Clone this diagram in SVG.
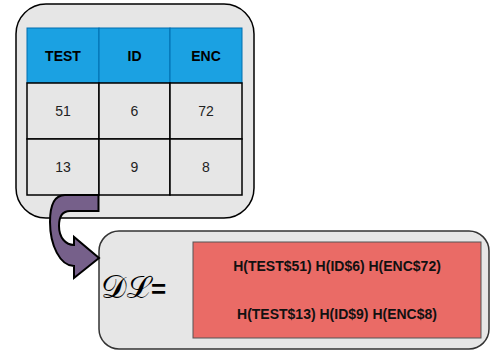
<svg xmlns="http://www.w3.org/2000/svg" width="490" height="351" viewBox="0 0 490 351">
<style>
.box{fill:#e6e6e6;stroke:#000;stroke-width:1.5}
.hdr{fill:#1ba1e2;stroke:#006eaf;stroke-width:1}
.cell{fill:#e6e6e6;stroke:#000;stroke-width:1.5}
.ht{font-family:"Liberation Sans",Arial,sans-serif;font-size:14px;font-weight:bold;fill:#000;text-anchor:middle}
.ct{font-family:"Liberation Sans",Arial,sans-serif;font-size:14px;fill:#222;text-anchor:middle}
.rt{font-family:"Liberation Sans",Arial,sans-serif;font-size:14px;font-weight:bold;fill:#111;text-anchor:middle}
</style>
<rect width="490" height="351" fill="#fff"/>
<g id="table-node">
<rect class="box" x="16" y="4" width="238" height="214" rx="30" ry="30"/>
<rect class="hdr" x="27" y="28" width="72" height="55"/>
<rect class="hdr" x="99" y="28" width="71" height="55"/>
<rect class="hdr" x="170" y="28" width="72" height="55"/>
<rect class="cell" x="27" y="83" width="72" height="56"/>
<rect class="cell" x="99" y="83" width="71" height="56"/>
<rect class="cell" x="170" y="83" width="72" height="56"/>
<rect class="cell" x="27" y="139" width="72" height="56"/>
<rect class="cell" x="99" y="139" width="71" height="56"/>
<rect class="cell" x="170" y="139" width="72" height="56"/>
<text class="ht" x="63" y="61">TEST</text>
<text class="ht" x="134.5" y="61">ID</text>
<text class="ht" x="206" y="61">ENC</text>
<text class="ct" x="63" y="116">51</text>
<text class="ct" x="134.5" y="116">6</text>
<text class="ct" x="206" y="116">72</text>
<text class="ct" x="63" y="172">13</text>
<text class="ct" x="134.5" y="172">9</text>
<text class="ct" x="206" y="172">8</text>
</g>
<g id="dl-node">
<rect x="99" y="231" width="390" height="118" rx="20" ry="20" fill="#e6e6e6" stroke="#333" stroke-width="1.5"/>
<rect x="193" y="242" width="288" height="96" fill="#ea6b66" stroke="#555" stroke-width="1"/>
<text class="rt" x="337" y="271">H(TEST$51) H(ID$6) H(ENC$72)</text>
<text class="rt" x="337" y="319">H(TEST$13) H(ID$9) H(ENC$8)</text>
<text x="101" y="298" font-family="'DejaVu Serif',serif" font-size="32" fill="#000" textLength="49" lengthAdjust="spacingAndGlyphs">𝒟ℒ</text>
<text x="151" y="298" font-family="'Liberation Sans',Arial,sans-serif" font-weight="bold" font-size="26" fill="#000">=</text>
</g>
<g id="connectors">
<path d="M98.5 195 L65 195 C55 195 50 205 50 222 C50 245 60 266 74 266 L74 278 L99 258 L74 237 L74 245 C66 245 59 238 59 226 C59 216 63 211 70 211 L98.5 211 Z" fill="#76608a" stroke="#000" stroke-width="2" stroke-linejoin="miter"/>
</g>
</svg>
